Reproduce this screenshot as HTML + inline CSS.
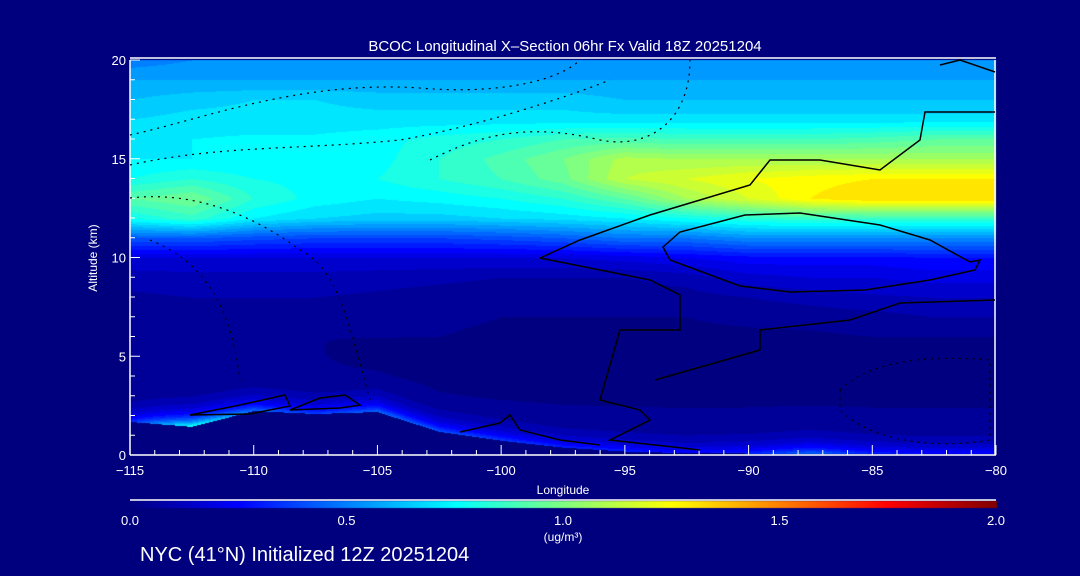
<!DOCTYPE html>
<html><head><meta charset="utf-8"><style>
html,body{margin:0;padding:0;background:#00007f;width:1080px;height:576px;overflow:hidden}
#wrap{position:relative;width:1080px;height:576px}
canvas,svg{position:absolute;left:0;top:0}
text{font-family:"Liberation Sans",sans-serif;fill:#fff}
</style></head><body>
<div id="wrap">
<canvas id="field" width="1080" height="576"></canvas>
<svg id="ov" width="1080" height="576"></svg>
</div>
<script>
const lons=[-115,-112.5,-110,-107.5,-105,-102.5,-100,-97.5,-95,-92.5,-90,-87.5,-85,-82.5,-80];
const alts=[0,1,2,3,4,5,6,7,8,9,10,11,12,13,14,15,16,17,18,19,20];
const conc=[
[.05,.05,.05,.05,.05,.05,.05,.05,.05,.05,.05,.05,.05,.05,.05],
[.05,.05,.05,.05,.05,.05,.05,.05,.05,.05,.05,.05,.05,.05,.05],
[.05,.05,.05,.05,.05,.05,.05,.05,.05,.05,.05,.05,.05,.05,.05],
[.05,.05,.05,.05,.05,.04,.04,.04,.04,.04,.04,.04,.04,.04,.04],
[.05,.05,.05,.05,.04,.04,.04,.04,.04,.04,.04,.04,.04,.04,.04],
[.05,.05,.05,.05,.04,.04,.04,.04,.04,.04,.04,.04,.04,.04,.04],
[.06,.06,.06,.05,.05,.05,.04,.04,.04,.04,.04,.04,.05,.05,.05],
[.07,.08,.08,.07,.06,.06,.05,.05,.05,.05,.06,.07,.08,.1,.1],
[.09,.1,.1,.1,.09,.08,.07,.07,.07,.08,.1,.12,.14,.15,.15],
[.12,.13,.13,.13,.12,.11,.1,.1,.1,.12,.18,.2,.2,.22,.22],
[.2,.2,.2,.2,.2,.2,.2,.2,.22,.25,.28,.28,.28,.3,.3],
[.45,.45,.42,.4,.4,.4,.42,.45,.5,.5,.55,.55,.55,.55,.55],
[.8,.88,.75,.7,.68,.68,.7,.72,.75,.8,.85,.88,.88,.88,.88],
[.95,1.0,.85,.78,.75,.77,.8,.85,.95,1.1,1.2,1.3,1.35,1.35,1.35],
[.8,.85,.8,.78,.8,.85,.9,.98,1.15,1.2,1.25,1.28,1.3,1.3,1.3],
[.75,.75,.75,.76,.78,.85,.92,1.0,1.12,1.1,1.1,1.1,1.1,1.1,1.1],
[.72,.75,.76,.76,.78,.82,.85,.9,.92,.9,.9,.9,.92,.95,.95],
[.7,.72,.72,.72,.72,.72,.72,.72,.72,.72,.72,.72,.72,.72,.72],
[.65,.68,.7,.7,.68,.68,.68,.68,.65,.65,.65,.65,.65,.65,.65],
[.6,.6,.6,.6,.6,.6,.6,.6,.6,.6,.6,.6,.6,.6,.6],
[.52,.55,.55,.55,.55,.55,.55,.55,.55,.55,.55,.55,.55,.55,.55]];
const terrain=[1.7,1.45,2.25,2.1,2.2,1.2,0.75,0.4,0.2,0.12,0.1,0.08,0.08,0.08,0.08];
const surfaceBoost=[.3,.8,.45,.35,.45,.4,.35,.3,.3,.25,.3,.45,.3,.25,.25];
const xTicks=[-115,-110,-105,-100,-95,-90,-85,-80];
const yTicks=[0,5,10,15,20];
const cbTicks=["0.0","0.5","1.0","1.5","2.0"];

const X0=130,X1=996,Y0=455,Y1=60;
const xs=l=>X0+(l+115)/35*(X1-X0);
const ys=a=>Y0-a/20*(Y0-Y1);
function jet(t){t=Math.max(0,Math.min(1,t));const c=v=>Math.round(255*Math.max(0,Math.min(1,v)));
return [c(1.5-Math.abs(4*t-3)),c(1.5-Math.abs(4*t-2)),c(1.5-Math.abs(4*t-1))];}
function interp(arr,l){const f=(l+115)/2.5;let i=Math.min(Math.floor(f),arr.length-2);const u=f-i;return arr[i]*(1-u)+arr[i+1]*u;}
function val(l,a){const f=(l+115)/2.5;let i=Math.min(Math.floor(f),lons.length-2);const u=f-i;
let j=Math.min(Math.floor(a),alts.length-2);const v=a-j;
return conc[j][i]*(1-u)*(1-v)+conc[j][i+1]*u*(1-v)+conc[j+1][i]*(1-u)*v+conc[j+1][i+1]*u*v;}
const cv=document.getElementById('field');const ctx=cv.getContext('2d');
ctx.fillStyle='#00007f';ctx.fillRect(0,0,1080,576);
const W=X1-X0,H=Y0-Y1;const img=ctx.createImageData(W,H);
for(let py=0;py<H;py++){const a=(H-py)/H*20;for(let px=0;px<W;px++){
const l=-115+(px+0.5)/W*35;let t;const tr=interp(terrain,l);
if(a<tr) t=0; else {let v=val(l,a)+interp(surfaceBoost,l)*Math.exp(-(a-tr)/0.55);v=Math.floor(v/0.05)*0.05;t=v/2;}
const c=jet(t);const k=(py*W+px)*4;img.data[k]=c[0];img.data[k+1]=c[1];img.data[k+2]=c[2];img.data[k+3]=255;}}
ctx.putImageData(img,X0,Y1);
for(let px=X0;px<=X1;px++){const c=jet((px-X0)/(X1-X0));ctx.fillStyle=`rgb(${c})`;ctx.fillRect(px,501,1,7);}

const NS='http://www.w3.org/2000/svg';const sv=document.getElementById('ov');
function mk(tag,at,txt){const e=document.createElementNS(NS,tag);for(const k in at)e.setAttribute(k,at[k]);if(txt!==undefined)e.textContent=txt;sv.appendChild(e);return e;}
let e;
e=mk('text',{x:565,y:51,'text-anchor':'middle','font-size':15},'BCOC Longitudinal X\u2013Section 06hr  Fx Valid 18Z 20251204');

e=mk('line',{x1:X0,y1:Y1-2,x2:X1,y2:Y1-2,stroke:'#fff','stroke-width':1.5});

e=mk('line',{x1:X0,y1:Y0,x2:X1,y2:Y0,stroke:'#fff','stroke-width':1.5});

e=mk('line',{x1:X0,y1:Y1,x2:X0,y2:Y0,stroke:'#fff','stroke-width':1.5});

e=mk('line',{x1:X1-1,y1:Y1,x2:X1-1,y2:Y0,stroke:'#fff','stroke-width':1.5});

for(let l=-115;l<=-80;l++){const maj=l%5===0;
e=mk('line',{x1:xs(l),y1:Y0,x2:xs(l),y2:Y0-(maj?10:5),stroke:'#fff'});
}
xTicks.forEach(l=>{e=mk('text',{x:xs(l),y:Y0+20,'text-anchor':'middle','font-size':13},'\u2212'+Math.abs(l));
});
for(let a=0;a<=20;a++){const maj=a%5===0;
e=mk('line',{x1:X0,y1:ys(a),x2:X0+(maj?10:5),y2:ys(a),stroke:'#fff'});
}
yTicks.forEach(a=>{e=mk('text',{x:X0-4,y:ys(a)+5,'text-anchor':'end','font-size':13},String(a));
});
e=mk('text',{x:563,y:494,'text-anchor':'middle','font-size':12},'Longitude');

e=mk('text',{x:97,y:258,'text-anchor':'middle','font-size':12,transform:'rotate(-90 97 258)'},'Altitude (km)');

e=mk('line',{x1:X0,y1:500,x2:X1,y2:500,stroke:'#fff','stroke-width':1.5});

cbTicks.forEach((s,i)=>{e=mk('text',{x:X0+i*(X1-X0)/4,y:525,'text-anchor':'middle','font-size':13},s);
});
e=mk('text',{x:563,y:541,'text-anchor':'middle','font-size':12},'(ug/m\u00b3)');

e=mk('text',{x:140,y:561,'font-size':20},'NYC (41\u00b0N) Initialized 12Z 20251204');

const g=mk('g',{fill:'none',stroke:'#000','stroke-width':1.5});

['M663,247 L680,232 L745,215 L800,213 L880,225 L930,240 L970,262 L980,260 L975,270 L930,280 L865,290 L790,292 L740,286 L670,260 Z',
'M540,258 L580,240 L650,215 L700,200 L750,185 L770,160 L820,160 L880,170 L920,140 L925,112 L995,112',
'M540,258 L600,270 L650,280 L680,295 L680,330 L620,330 L600,400 L640,410 L650,420 L610,440 L700,450',
'M655,380 L690,370 L760,350 L760,330 L850,320 L900,303 L995,300',
'M940,65 L960,60 L995,72',
'M190,415 L240,405 L285,395 L290,406 L250,414 Z',
'M290,410 L320,398 L345,395 L360,405 L340,408 Z',
'M460,432 L500,423 L510,415 L520,430 L560,440 L600,445'].forEach(d=>{const p=document.createElementNS(NS,'path');p.setAttribute('d',d);g.appendChild(p);});
const g2=mk('g',{fill:'none',stroke:'#000','stroke-width':1.2,'stroke-dasharray':'2 5'});

['M130,135 C200,120 300,80 420,88 C500,95 560,80 580,60',
 'M130,165 C220,145 300,150 400,140 C470,128 560,100 610,80',
 'M130,198 C200,190 260,220 300,250 C340,270 350,330 370,400',
 'M430,160 C470,140 520,120 600,140 C650,150 690,120 690,60',
 'M150,240 C200,260 230,300 240,380',
 'M840,390 C870,360 930,355 990,360 L990,440 C930,450 870,440 840,410 Z'].forEach(d=>{const p=document.createElementNS(NS,'path');p.setAttribute('d',d);g2.appendChild(p);});
</script>
</body></html>
